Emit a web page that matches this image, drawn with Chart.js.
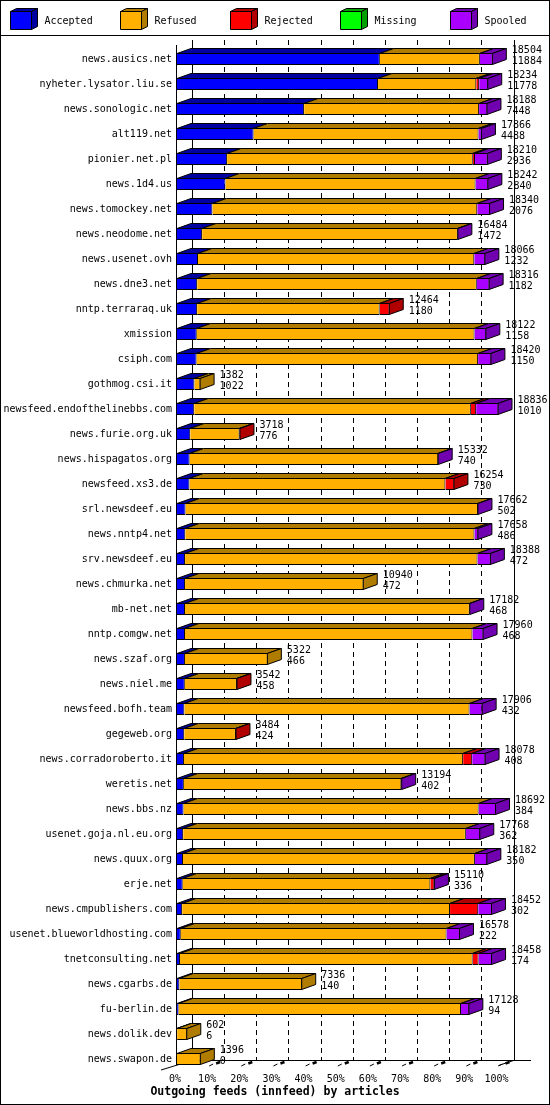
<!DOCTYPE html>
<html>
<head>
<meta charset="utf-8">
<title>Outgoing feeds (innfeed) by articles</title>
<script src="https://cdn.jsdelivr.net/npm/chart.js@4.4.1/dist/chart.umd.min.js"></script>
<style>
  html, body { margin: 0; padding: 0; background: #fff; }
  #wrap { width: 550px; height: 1105px; }
</style>
</head>
<body>
<div id="wrap"><canvas id="feeds" width="550" height="1105"></canvas></div>
<script>
const sites = [
  'news.ausics.net', 'nyheter.lysator.liu.se', 'news.sonologic.net', 'alt119.net',
  'pionier.net.pl', 'news.1d4.us', 'news.tomockey.net', 'news.neodome.net',
  'news.usenet.ovh', 'news.dne3.net', 'nntp.terraraq.uk', 'xmission', 'csiph.com',
  'gothmog.csi.it', 'newsfeed.endofthelinebbs.com', 'news.furie.org.uk',
  'news.hispagatos.org', 'newsfeed.xs3.de', 'srl.newsdeef.eu', 'news.nntp4.net',
  'srv.newsdeef.eu', 'news.chmurka.net', 'mb-net.net', 'nntp.comgw.net',
  'news.szaf.org', 'news.niel.me', 'newsfeed.bofh.team', 'gegeweb.org',
  'news.corradoroberto.it', 'weretis.net', 'news.bbs.nz', 'usenet.goja.nl.eu.org',
  'news.quux.org', 'erje.net', 'news.cmpublishers.com', 'usenet.blueworldhosting.com',
  'tnetconsulting.net', 'news.cgarbs.de', 'fu-berlin.de', 'news.dolik.dev', 'news.swapon.de'
];
const offered = [
  18504, 18234, 18188, 17866, 18210, 18242, 18340, 16484, 18066, 18316, 12464, 18122, 18420,
  1382, 18836, 3718, 15332, 16254, 17662, 17658, 18388, 10940, 17182, 17960, 5322, 3542,
  17906, 3484, 18078, 13194, 18692, 17768, 18182, 15110, 18452, 16578, 18458, 7336, 17128,
  602, 1396
];
const accepted = [
  11884, 11778, 7448, 4488, 2936, 2840, 2076, 1472, 1232, 1182, 1180, 1158, 1150,
  1022, 1010, 776, 740, 730, 502, 486, 472, 472, 468, 468, 466, 458,
  432, 424, 408, 402, 384, 362, 350, 336, 302, 222, 174, 140, 94,
  6, 0
];
// estimated from the bar segments
const rejected = [
  0, 170, 0, 0, 130, 0, 0, 0, 0, 0, 590, 0, 0,
  0, 310, 50, 0, 530, 0, 0, 0, 0, 0, 0, 0, 30,
  0, 30, 530, 0, 0, 0, 0, 235, 1650, 0, 350, 0, 0,
  0, 0
];
const missing = [
  0, 0, 0, 0, 0, 0, 0, 0, 0, 0, 0, 0, 0,
  0, 0, 0, 0, 0, 0, 0, 0, 0, 0, 0, 0, 0,
  0, 0, 0, 0, 0, 0, 0, 0, 0, 0, 0, 0, 0,
  0, 0
];
const spooled = [
  760, 530, 490, 200, 750, 750, 750, 30, 650, 750, 0, 690, 780,
  0, 1310, 0, 30, 0, 30, 230, 780, 0, 30, 650, 0, 0,
  765, 0, 785, 50, 1020, 845, 727, 30, 805, 785, 785, 0, 490,
  0, 0
];
const refused = offered.map((t, i) => t - accepted[i] - rejected[i] - missing[i] - spooled[i]);
const tickPercents = [0, 10, 20, 30, 40, 50, 60, 70, 80, 90, 100];
const maxOffered = Math.max(...offered);

const FONT = "'DejaVu Sans Mono', 'Liberation Mono', monospace";
const DX = 14, DY = 5, GRID_DX = 15;
const WALL_TOP = 40, FLOOR_Y = 1060.5;

const series = [
  { label: 'Accepted', data: accepted, color: '#0000ff', dark: '#0000a0' },
  { label: 'Refused',  data: refused,  color: '#ffb000', dark: '#b07c00' },
  { label: 'Rejected', data: rejected, color: '#ff0000', dark: '#b00000' },
  { label: 'Missing',  data: missing,  color: '#00ff00', dark: '#00a000' },
  { label: 'Spooled',  data: spooled,  color: '#aa00ff', dark: '#7000b0' }
];

function poly(ctx, pts, fill) {
  ctx.beginPath();
  ctx.moveTo(pts[0][0], pts[0][1]);
  for (let i = 1; i < pts.length; i++) ctx.lineTo(pts[i][0], pts[i][1]);
  ctx.closePath();
  ctx.fillStyle = fill;
  ctx.fill();
  ctx.stroke();
}

// back wall, dashed grid and floor, behind the bars
const wallPlugin = {
  id: 'wall',
  beforeDatasetsDraw(chart) {
    const { ctx } = chart;
    const xs = chart.scales.x;
    ctx.save();
    ctx.strokeStyle = '#000';
    ctx.lineWidth = 1;
    tickPercents.forEach(p => {
      const px = Math.round(xs.getPixelForValue(maxOffered * p / 100) + GRID_DX) + 0.5;
      ctx.setLineDash(p === 0 || p === 100 ? [] : [5, 4]);
      ctx.beginPath();
      ctx.moveTo(px, WALL_TOP);
      ctx.lineTo(px, FLOOR_Y);
      ctx.stroke();
    });
    ctx.setLineDash([]);
    const x0 = xs.getPixelForValue(0), x100 = xs.getPixelForValue(maxOffered);
    ctx.beginPath();
    ctx.moveTo(x0 + GRID_DX, FLOOR_Y);
    ctx.lineTo(531, FLOOR_Y);
    ctx.moveTo(161, 1070);
    ctx.lineTo(x0 + GRID_DX, FLOOR_Y);
    ctx.moveTo(x100, 1065.5);
    ctx.lineTo(x100 + GRID_DX, FLOOR_Y);
    ctx.stroke();
    // little 3d ticks on the floor
    tickPercents.slice(1).forEach(p => {
      const xf = xs.getPixelForValue(maxOffered * p / 100);
      ctx.lineWidth = 1;
      ctx.beginPath();
      ctx.moveTo(xf, 1066);
      ctx.lineTo(xf + 4, 1064);
      ctx.stroke();
      ctx.lineWidth = 2.5;
      ctx.beginPath();
      ctx.moveTo(xf + 7, 1063.5);
      ctx.lineTo(xf + 11, 1062);
      ctx.stroke();
    });
    ctx.restore();
  },
  // top and end faces of the bars, counts on the right
  afterDatasetsDraw(chart) {
    const { ctx, chartArea } = chart;
    const xs = chart.scales.x;
    ctx.save();
    ctx.strokeStyle = '#000';
    ctx.lineWidth = 1;
    sites.forEach((s, j) => {
      let last = null;
      series.forEach((ser, i) => {
        const el = chart.getDatasetMeta(i).data[j];
        const { x, y, base, height } = el.getProps(['x', 'y', 'base', 'height'], true);
        const a = Math.min(base, x), b = Math.max(base, x);
        if (b - a <= 0) return;
        const top = y - height / 2 + 0.5;
        poly(ctx, [[a, top], [b - 0.5, top], [b - 0.5 + DX, top - DY], [a + DX, top - DY]], ser.dark);
        last = { b, top, bot: y + height / 2 - 0.5, dark: ser.dark };
      });
      if (last) {
        const e = last.b - 0.5;
        poly(ctx, [[e, last.top], [e + DX, last.top - DY], [e + DX, last.bot - DY], [e, last.bot]], last.dark);
      }
      const el = chart.getDatasetMeta(0).data[j];
      const yc = el.y;
      const lx = xs.getPixelForValue(offered[j]) + 19;
      ctx.fillStyle = '#000';
      ctx.font = '10px ' + FONT;
      ctx.textAlign = 'left';
      ctx.textBaseline = 'middle';
      ctx.fillText(String(offered[j]), lx, yc - 9);
      ctx.fillText(String(accepted[j]), lx, yc + 2);
    });
    // front left axis
    ctx.beginPath();
    ctx.moveTo(chartArea.left - 0.5, 45);
    ctx.lineTo(chartArea.left - 0.5, 1065);
    ctx.stroke();
    ctx.restore();
  },
  afterDraw(chart) {
    const { ctx } = chart;
    ctx.save();
    ctx.strokeStyle = '#000';
    ctx.lineWidth = 1;
    // legend
    series.forEach((ser, i) => {
      const bx = 10.5 + 110 * i, by = 11.5, w = 21, h = 18;
      poly(ctx, [[bx, by], [bx + w, by], [bx + w, by + h], [bx, by + h]], ser.color);
      poly(ctx, [[bx, by], [bx + w, by], [bx + w + 6, by - 3], [bx + 6, by - 3]], ser.dark);
      poly(ctx, [[bx + w, by], [bx + w + 6, by - 3], [bx + w + 6, by + h - 3], [bx + w, by + h]], ser.dark);
      ctx.fillStyle = '#000';
      ctx.font = '10px ' + FONT;
      ctx.textAlign = 'left';
      ctx.textBaseline = 'middle';
      ctx.fillText(ser.label, bx + 34, 21);
    });
    ctx.beginPath();
    ctx.moveTo(0, 35.5);
    ctx.lineTo(550, 35.5);
    ctx.stroke();
    ctx.strokeRect(0.5, 0.5, 549, 1104);
    ctx.font = 'bold 11.5px ' + FONT;
    ctx.textAlign = 'center';
    ctx.fillText('Outgoing feeds (innfeed) by articles', 275, 1092);
    ctx.restore();
  }
};

new Chart(document.getElementById('feeds'), {
  type: 'bar',
  data: {
    labels: sites,
    datasets: series.map(ser => ({
      label: ser.label,
      data: ser.data,
      backgroundColor: ser.color,
      borderColor: '#000',
      borderWidth: 1,
      borderSkipped: 'start',
      inflateAmount: 0,
      barThickness: 12
    }))
  },
  options: {
    indexAxis: 'y',
    responsive: false,
    animation: false,
    devicePixelRatio: 1,
    layout: { padding: { top: 46.5, right: 51.5, bottom: 0, left: 0 } },
    plugins: { legend: { display: false }, tooltip: { enabled: false } },
    scales: {
      x: {
        stacked: true,
        min: 0,
        max: maxOffered,
        grid: { display: false, drawTicks: false },
        border: { display: false },
        afterBuildTicks(scale) {
          scale.ticks = tickPercents.map(p => ({ value: maxOffered * p / 100 }));
        },
        afterFit(scale) { scale.height = 33.5; },
        ticks: {
          color: '#000',
          font: { family: FONT, size: 10 },
          padding: 2,
          labelOffset: -2,
          maxRotation: 0,
          autoSkip: false,
          callback(v) { return Math.round(v / maxOffered * 100) + '%'; }
        }
      },
      y: {
        stacked: true,
        grid: { display: false, drawTicks: false },
        border: { display: false },
        afterFit(scale) { scale.width = 177; },
        ticks: {
          color: '#000',
          font: { family: FONT, size: 10 },
          padding: 5,
          autoSkip: false
        }
      }
    }
  },
  plugins: [wallPlugin]
});
</script>
</body>
</html>
